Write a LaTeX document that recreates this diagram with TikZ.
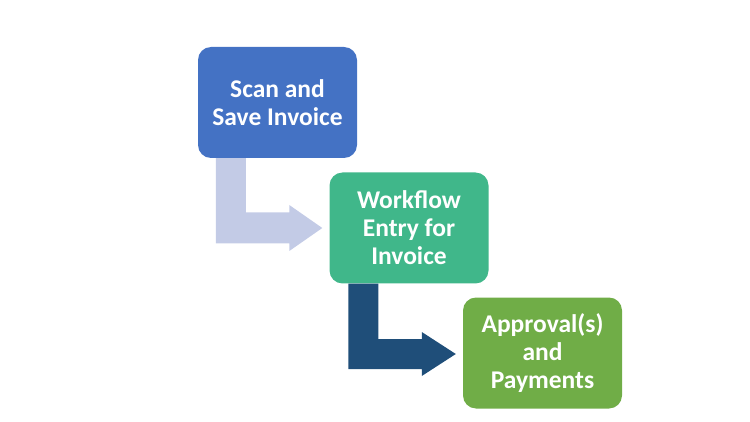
\documentclass[tikz,border=0pt]{standalone}
\usepackage{fontspec}
\setmainfont{Carlito}
\usetikzlibrary{calc}
\definecolor{scanblue}{HTML}{4472C4}
\definecolor{entrygreen}{HTML}{40B78A}
\definecolor{paygreen}{HTML}{70AD47}
\definecolor{lightarrow}{HTML}{C3CBE6}
\definecolor{darkarrow}{HTML}{1F4E79}

\begin{document}
\begin{tikzpicture}
  [x=1pt,y=-1pt,
   flow box/.style={rectangle,rounded corners=13pt,fill=#1,minimum width=159pt,minimum height=111pt,
     text=white,align=center,font=\fontsize{25.5}{28}\selectfont\bfseries,inner sep=0pt},
   bent arrow/.style={fill=#1}]

  \useasboundingbox (0,0) rectangle (750,422);

  \node [flow box = scanblue] (scan) at (277.5,102.5) {Scan and\\Save Invoice};
  \node [flow box = entrygreen] (entry) at (409,228) {Workflow\\Entry for\\Invoice};
  \node [flow box = paygreen] (approval) at (542.5,353) {Approval(s)\\and\\Payments};

  %\node[left] at (barycentric cs:scan=1/2,entry=1/2) {};
  \coordinate (tip A) at ($(entry.west)+(-7,0)$);
  \coordinate (tip B) at ($(approval.west)+(-7,1)$);

  \fill [bent arrow = lightarrow] ($(scan.south west)+(18,0)$) |- ($(tip A)+(-33,15.5)$)
    -- ($(tip A)+(-33,23)$) -- (tip A) -- ($(tip A)+(-33,-23)$) -- ($(tip A)+(-33,-15.5)$)
    -| ($(scan.south west)+(48,0)$) -- cycle;

  \fill [bent arrow = darkarrow] ($(entry.south west)+(19,0)$) |- ($(tip B)+(-34,15)$)
    -- ($(tip B)+(-34,22)$) -- (tip B) -- ($(tip B)+(-34,-22)$) -- ($(tip B)+(-34,-15)$)
    -| ($(entry.south west)+(49,0)$) -- cycle;

\end{tikzpicture}
\end{document}
